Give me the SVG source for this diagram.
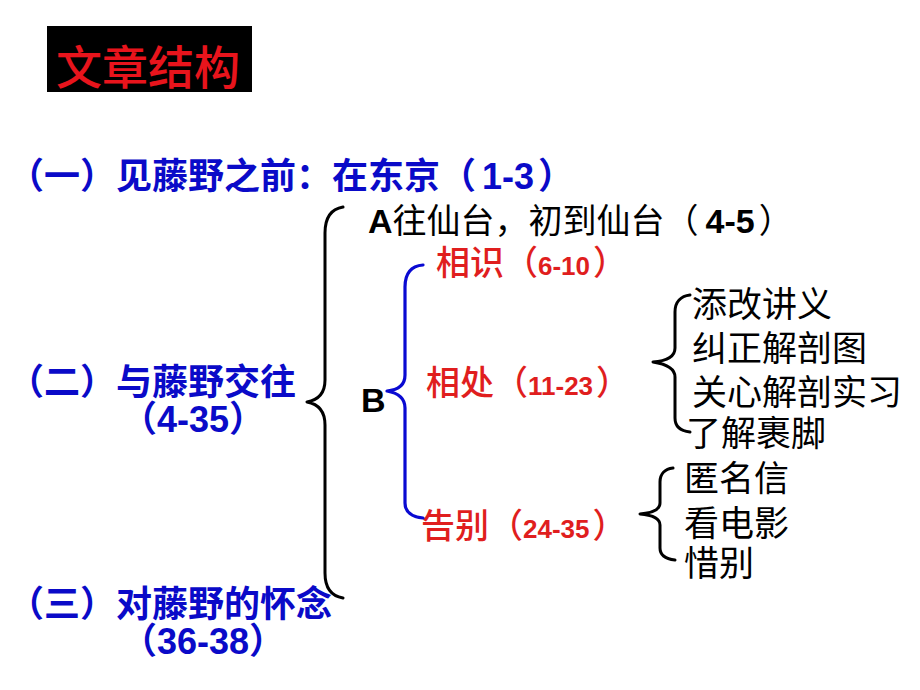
<svg xmlns="http://www.w3.org/2000/svg" width="920" height="690" viewBox="0 0 920 690">
<style>
text{font-family:"Liberation Sans","Noto Sans CJK SC",sans-serif;}
.blue{fill:#0a0ac8;font-size:36px;font-weight:bold;}
.blk{fill:#000;font-size:34px;}
.red{fill:#e01e1e;font-size:34px;font-weight:500;}
.list{fill:#000;font-size:35px;}
.b{font-weight:bold;}
.num{font-weight:bold;font-size:26px;}
.brace{fill:none;stroke:#000;stroke-width:3;stroke-linecap:round;stroke-linejoin:round;}
.bbrace{fill:none;stroke:#0a0ad2;stroke-width:3.2;stroke-linecap:round;stroke-linejoin:round;}
</style>
<rect width="920" height="690" fill="#fff"/>
<g id="title">
<rect x="47" y="26" width="205" height="66" fill="#000"/>
<text x="56" y="84" style="font-size:46px;font-weight:500;fill:#e8141c">文章结构</text>
</g>
<g id="part1"><text class="blue" x="8" y="189">（一）见藤野之前：在东京（<tspan dx="6">1-3</tspan><tspan dx="4">）</tspan></text></g>
<g id="part2"><text class="blue" x="8" y="395">（二）与藤野交往</text><text class="blue" x="121" y="432">（4-35）</text></g>
<g id="part3"><text class="blue" x="8" y="617">（三）对藤野的怀念</text><text class="blue" x="121" y="654">（36-38）</text></g>
<g id="nodeA"><text class="blk" x="368" y="233"><tspan class="b">A</tspan>往仙台，初到仙台（<tspan class="b" dx="7">4-5</tspan><tspan dx="4">）</tspan></text></g>
<g id="nodeB"><text x="361" y="412" style="font-size:34px;font-weight:bold;fill:#000">B</text></g>
<g id="xiangshi"><text class="red" x="436" y="275">相识（<tspan class="num">6-10</tspan><tspan dx="3">）</tspan></text></g>
<g id="xiangchu"><text class="red" x="426" y="395">相处（<tspan class="num">11-23</tspan><tspan dx="3">）</tspan></text></g>
<g id="gaobie"><text class="red" x="421" y="538">告别（<tspan class="num">24-35</tspan><tspan dx="3">）</tspan></text></g>
<g id="list1">
<text class="list" x="692" y="317">添改讲义</text>
<text class="list" x="692" y="361">纠正解剖图</text>
<text class="list" x="692" y="405">关心解剖实习</text>
<text class="list" x="686" y="446">了解裹脚</text>
</g>
<g id="list2">
<text class="list" x="684" y="491">匿名信</text>
<text class="list" x="684" y="536">看电影</text>
<text class="list" x="684" y="576">惜别</text>
</g>
<g id="connectors">
<path class="brace" d="M343,207 C331,209 325,218 325,233 L325,380 C325,394 318,400 307,402 C318,404 325,411 325,425 L325,573 C325,588 331,596 343,598"/>
<path class="bbrace" d="M423,265 C411,266 405,274 405,287 L405,375 C405,385 398,390 387,391 C398,393 405,398 405,408 L405,503 C405,512 412,517 423,518"/>
<path class="brace" d="M690,295 C681,296 675,302 675,312 L675,348 C675,357 666,361 653,362 C666,364 675,368 675,377 L675,418 C675,427 681,431 690,432"/>
<path class="brace" d="M673,468 C665,469 660,474 660,482 L660,503 C660,510 652,513 640,514 C652,515 660,518 660,525 L660,548 C660,555 666,559 675,560"/>
</g>
</svg>
